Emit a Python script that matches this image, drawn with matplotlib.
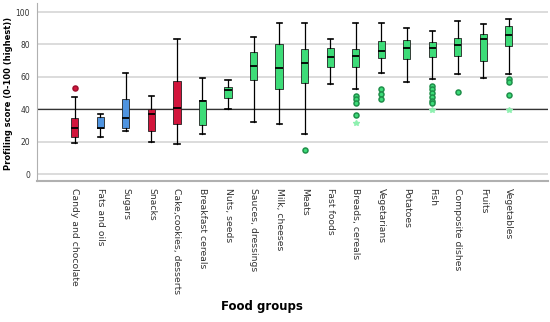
import matplotlib
matplotlib.use("Agg")
import matplotlib.pyplot as plt

groups = ["Candy and chocolate", "Fats and oils", "Sugars", "Snacks",
          "Cake,cookies, desserts", "Breakfast cereals", "Nuts, seeds",
          "Sauces, dressings", "Milk, cheeses", "Meats", "Fast foods",
          "Breads, cereals", "Vegetarians", "Potatoes", "Fish",
          "Composite dishes", "Fruits", "Vegetables"]
colour_class = ["r", "b", "b", "r", "r", "g", "g", "g", "g", "g", "g",
                "g", "g", "g", "g", "g", "g", "g"]

wlo = [19, 23, 26.7, 20, 18.7, 24.7, 40, 31.9, 30.9, 24.7, 55.8, 52.3,
       62.1, 56.8, 58.4, 61.5, 59.3, 61.7]
q1 = [23, 28.2, 28.2, 26.5, 30.9, 30.4, 46.7, 58, 52.3, 56.4, 65.8, 66.3,
      71.4, 71.2, 72, 73, 70, 79]
med = [28.2, 28.5, 34.8, 36.8, 40.5, 45.4, 51.6, 66.9, 65.4, 68.7, 72,
       72.8, 76.1, 77.6, 78, 79.8, 83.1, 85.6]
q3 = [34.4, 35.4, 46.5, 40, 57.4, 45.7, 53.9, 75.1, 80.2, 77.2, 78, 77.4,
      82.3, 82.7, 81.3, 84, 86.6, 91.5]
whi = [47.3, 37, 62.5, 48.3, 83.7, 59.3, 58, 84.8, 93, 93.4, 83.5, 93,
       93, 89.9, 88.3, 94.4, 92.6, 95.7]
outliers = [[53.3], [], [], [], [], [], [], [], [], [14.6], [],
            [48.1, 46.1, 44, 36.2], [52.7, 49.4, 46.1], [],
            [54.3, 52.3, 49.8, 47.3, 45.3, 43.6], [50.6], [],
            [58.6, 57, 48.6]]
extremes = [[], [], [], [], [], [], [], [], [], [], [], [31.3], [], [],
            [39.5], [], [], [39.5]]

palette = {"r": "#d2153c", "b": "#4f94e0", "g": "#3ddc78"}

fig = plt.figure(figsize=(5.5, 3.22), dpi=100)
ax = fig.add_axes([0.067, 0.438, 0.929, 0.552])

stats = []
for i in range(len(groups)):
    stats.append({"whislo": wlo[i], "q1": q1[i], "med": med[i],
                  "q3": q3[i], "whishi": whi[i], "fliers": outliers[i]})

pos = list(range(1, len(groups) + 1))
bp = ax.bxp(stats, positions=pos, widths=0.28, patch_artist=True,
            showfliers=True, capwidths=0.2,
            medianprops=dict(color="black", linewidth=1.3),
            whiskerprops=dict(color="black", linewidth=0.9),
            capprops=dict(color="black", linewidth=1.2),
            boxprops=dict(edgecolor="#222222", linewidth=0.6))
for patch, c in zip(bp["boxes"], colour_class):
    patch.set_facecolor(palette[c])
for fl, c in zip(bp["fliers"], colour_class):
    fl.set(marker="o", markersize=3.6, markerfacecolor=palette[c],
           markeredgecolor="#1f8f4a" if c == "g" else "#9e0f2d",
           markeredgewidth=1.1, linestyle="none")

for p, ex in zip(pos, extremes):
    if ex:
        ax.plot([p] * len(ex), ex, linestyle="none", marker="*",
                markersize=4, color="#8ef0b0")

ax.axhline(40, color="#333333", linewidth=0.9, zorder=1)
ax.set_ylim(-4.3, 105.5)
ax.set_xlim(-0.49, 19.53)
ax.set_yticks([0, 20, 40, 60, 80, 100])
ax.yaxis.grid(True, color="#d9d9d9", linewidth=1.3)
ax.set_axisbelow(True)

ax.set_xticks(pos)
ax.set_xticklabels(groups, rotation=270, fontsize=6.7, color="#333333",
                   va="top", ha="center")
ax.tick_params(axis="x", length=0, pad=5)
ax.tick_params(axis="y", length=0, labelsize=5.5, labelcolor="#333333",
               pad=5)

for s in ["top", "right"]:
    ax.spines[s].set_visible(False)
ax.spines["left"].set_color("#b0b0b0")
ax.spines["bottom"].set_color("#b0b0b0")
ax.spines["bottom"].set_linewidth(1.5)

ax.set_ylabel("Profiling score (0-100 (highest))", fontsize=6,
              fontweight="bold")
ax.yaxis.set_label_coords(-0.047, 0.49)
fig.text(0.477, 0.028, "Food groups", fontsize=8.5, fontweight="bold",
         ha="center", va="bottom")

fig.savefig("out.png", dpi=100)
